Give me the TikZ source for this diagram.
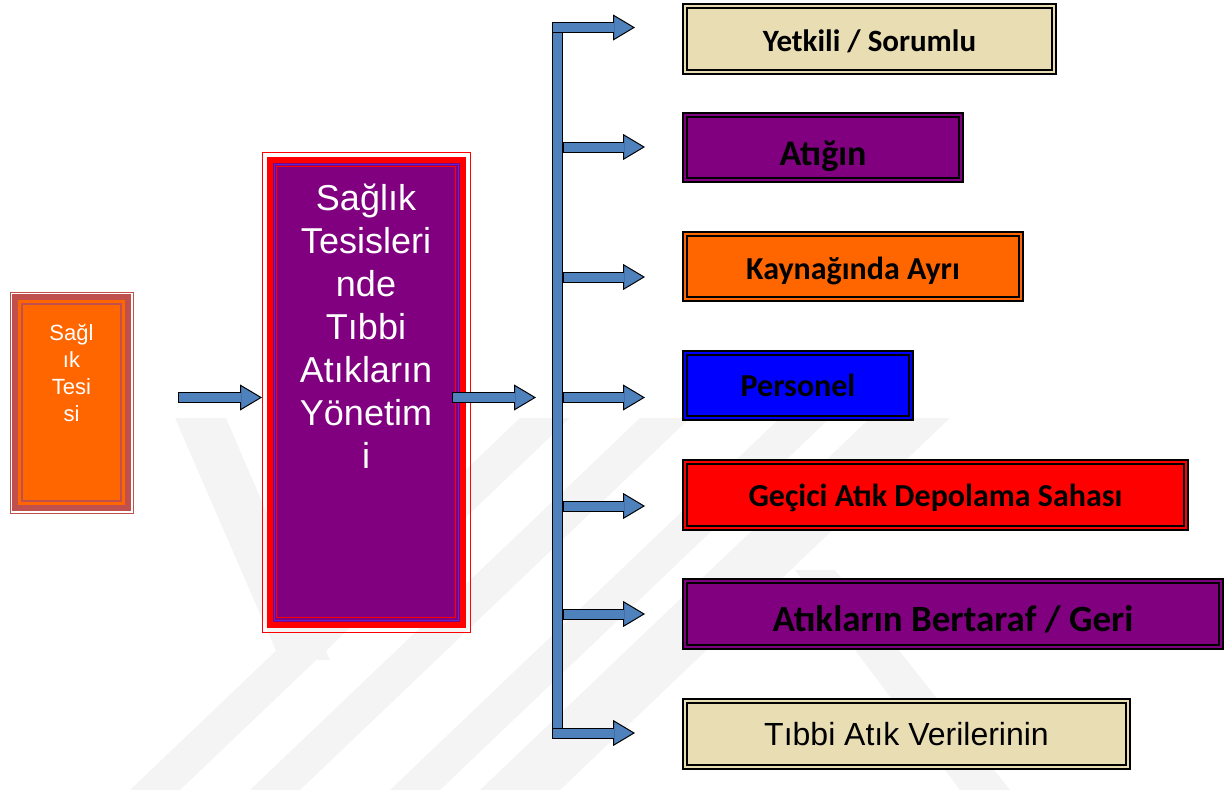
\documentclass[tikz,border=0pt]{standalone}
\usepackage{fontspec}
\setmainfont{Liberation Sans}
\newfontfamily\calibri{Carlito}
\usetikzlibrary{arrows.meta,positioning,fit,calc}
\definecolor{boxtan}{RGB}{233,221,180}
\definecolor{boxpurple}{RGB}{128,0,128}
\definecolor{boxorange}{RGB}{255,102,0}
\definecolor{boxblue}{RGB}{0,0,255}
\definecolor{boxred}{RGB}{255,0,0}
\definecolor{tesisred}{RGB}{192,80,77}
\definecolor{linevio}{RGB}{90,40,210}
\definecolor{arrowblue}{RGB}{79,129,189}
\definecolor{wmgray}{RGB}{244,244,244}

\begin{document}
\begin{tikzpicture}[x=1pt,y=1pt]
              \tikzstyle{every node}+=[inner sep=0pt, outer sep=0pt]
              \tikzstyle{box}=[draw=black, line width=2pt, double distance=2pt, minimum height=66pt, font=\calibri\bfseries\fontsize{32}{38}\selectfont, text height=23pt, text depth=0pt]
              \tikzstyle{barrow}=[draw=black, line width=11pt, -{Triangle[width=26pt,length=22pt,fill=arrowblue,line width=1pt]}, postaction={draw=arrowblue, line width=9pt, -, shorten >=21.5pt, shorten <=1pt}]
              \tikzstyle{busline}=[draw=black, line width=11pt, postaction={draw=arrowblue, line width=9pt}]
              \useasboundingbox (0,0) rectangle (1232,-792);
              % watermark
              \fill [wmgray] (175,-418) -- (226,-418) -- (330,-660) -- (280,-660) -- cycle;
              \fill [wmgray] (130,-790) -- (180,-790) -- (570,-418) -- (520,-418) -- cycle;
              \fill [wmgray] (250,-790) -- (300,-790) -- (690,-418) -- (640,-418) -- cycle;
              \fill [wmgray] (390,-790) -- (440,-790) -- (830,-418) -- (780,-418) -- cycle;
              \fill [wmgray] (480,-790) -- (560,-790) -- (950,-418) -- (870,-418) -- cycle;
              \fill [wmgray] (795,-570) -- (835,-570) -- (1010,-790) -- (960,-790) -- cycle;
              % left box
              \node (tesis) [draw=tesisred, line width=6pt, fill=boxorange, minimum width=113pt, minimum height=211pt] at (71.5,-402.5) {};
              \node (tesisin) [draw=tesisred, line width=1.5pt, fit=(tesis), inner sep=-7pt] {};
              \node (tesisout) [draw=tesisred, line width=1pt, fit=(tesis), inner sep=5pt] {};
              \node (tesistext) [below=27pt of tesis.north, align=center, text=white, font=\fontsize{22}{27}\selectfont] {Sağl\\ık\\Tesi\\si};
              % middle box
              \node (yonetim) [draw=boxred, line width=6pt, fill=boxpurple, minimum width=193pt, minimum height=465pt] at (366,-392) {};
              \node (yonetimvio) [draw=linevio, line width=0.8pt, fit=(yonetim), inner sep=-4.5pt] {};
              \node (yonetimin) [draw=boxred, line width=1.2pt, fit=(yonetim), inner sep=-7pt] {};
              \node (yonetimout) [draw=boxred, line width=1pt, fit=(yonetim), inner sep=7.5pt] {};
              \node (yonetimtext) [below=24.5pt of yonetim.north, align=center, text=white, font=\fontsize{36}{43}\selectfont] {Sağlık\\Tesisleri\\nde\\Tıbbi\\Atıkların\\Yönetim\\i};
              % right boxes
              \node (yetkili) [box, fill=boxtan, double=boxtan, minimum width=369pt, text height=26pt, font=\calibri\bfseries\fontsize{31}{37}\selectfont] at (869.5,-39) {Yetkili / Sorumlu};
              \node (atigin) [box, fill=boxpurple, double=boxpurple, minimum width=276pt, minimum height=65pt, text height=35pt, font=\calibri\bfseries\fontsize{36}{43}\selectfont] at (823,-147.5) {Atığın};
              \node (kaynak) [box, fill=boxorange, double=boxorange, minimum width=336pt, minimum height=65pt, text height=25pt] at (853,-266.5) {Kaynağında Ayrı};
              \node (personel) [box, fill=boxblue, double=boxblue, minimum width=226pt, minimum height=65pt, text height=22pt] at (798,-385.5) {Personel};
              \node (gecici) [box, fill=boxred, double=boxred, minimum width=501pt] at (935.5,-495) {Geçici Atık Depolama Sahası};
              \node (bertaraf) [box, fill=boxpurple, double=boxpurple, minimum width=536pt, text height=35pt, font=\calibri\bfseries\fontsize{37}{44}\selectfont] at (953,-614) {Atıkların Bertaraf / Geri};
              \node (veriler) [box, fill=boxtan, double=boxtan, minimum width=443pt, text height=22pt, font=\fontsize{32}{38}\selectfont] at (906.5,-734) {Tıbbi Atık Verilerinin};
              % bus
              \coordinate (bustop) at (557.5,-27.5);
              \coordinate (busbot) at (557.5,-733);
              \coordinate (b1) at (552,-27.5);
              \coordinate (b2) at (563,-147);
              \coordinate (b3) at (563,-277);
              \coordinate (b4) at (563,-397.5);
              \coordinate (b5) at (563,-506);
              \coordinate (b6) at (563,-614);
              \coordinate (b7) at (552,-733);
              \draw [busline] (bustop) -- (busbot);
              \draw [barrow] (b1) -- ($(b1 -| yetkili.west)+(-50,0)$);
              \draw [barrow] (b2) -- ($(b2 -| atigin.west)+(-40,0)$);
              \draw [barrow] (b3) -- ($(b3 -| kaynak.west)+(-40,0)$);
              \draw [barrow] (b4) -- ($(b4 -| personel.west)+(-40,0)$);
              \draw [barrow] (b5) -- ($(b5 -| gecici.west)+(-40,0)$);
              \draw [barrow] (b6) -- ($(b6 -| bertaraf.west)+(-40,0)$);
              \draw [barrow] (b7) -- ($(b7 -| veriler.west)+(-50,0)$);
              \draw [barrow] ($(tesis.east)+(50,5)$) -- ($(tesis.east -| yonetim.west)+(-7.5,5)$);
              \draw [barrow] ($(yonetim.east)+(-10.5,-5.5)$) -- ($(b4)+(-27,0)$);
            \end{tikzpicture}
\end{document}
